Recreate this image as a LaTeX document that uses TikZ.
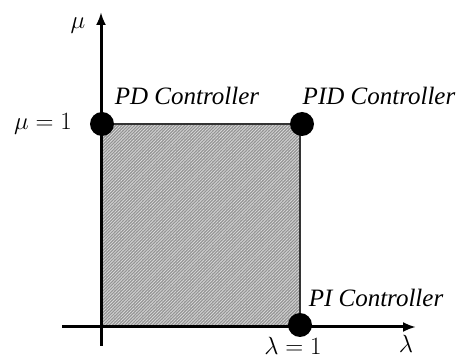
\documentclass[tikz,border=0pt]{standalone}
\usepackage{fontspec}
\setmainfont{Liberation Serif}
\usetikzlibrary{arrows.meta,patterns.meta}

\begin{document}
\begin{tikzpicture}[x=1pt,y=-1pt,>={Latex[length=13pt,width=10pt]},line join=miter]
\tikzset{axis/.style={draw=black,line width=3pt},
  corner/.style={circle,fill=black,inner sep=0pt,minimum size=24pt},
  lbl/.style={font=\fontsize{25}{30}\selectfont\itshape,inner sep=0pt},
  mlbl/.style={font=\fontsize{27}{32}\selectfont,inner sep=0pt}}
\path[fill=white] (0,0) rectangle (456,358);
\useasboundingbox (0,0) rectangle (456,358);
% region of parameters
\path[fill=gray!85] (101,124) rectangle (300,327);
\path[pattern={Lines[angle=45,distance=2.2pt,line width=0.8pt]},pattern color=white!70!gray] (101,124) rectangle (300,327);
% axes
\coordinate (xs) at (62,327); \coordinate (xe) at (416,327);
\coordinate (ys) at (101,346); \coordinate (ye) at (101,12);
\draw[axis,->] (xs) -- (xe);
\draw[axis,->] (ys) -- (ye);
\draw[black!80,line width=1.5pt] (101,124) -- (300,124) -- (300,327);
% corner points
\node[corner] (pd) at (102,124) {};
\node[corner] (pid) at (302,124) {};
\node[corner] (pi) at (300,325) {};
% labels
\node[mlbl] (mu) at (78,26) {$\mu$};
\node[mlbl,anchor=east] (muone) at (72,124) {$\mu = 1$};
\node[mlbl] (lam) at (406,344) {$\lambda$};
\node[mlbl] (lamone) at (293,346) {$\lambda = 1$};
\node[lbl] (pdlbl) at (187,96) {PD Controller};
\node[lbl] (pidlbl) at (379,96) {PID Controller};
\node[lbl] (pilbl) at (376,298) {PI Controller};
\end{tikzpicture}
\end{document}
